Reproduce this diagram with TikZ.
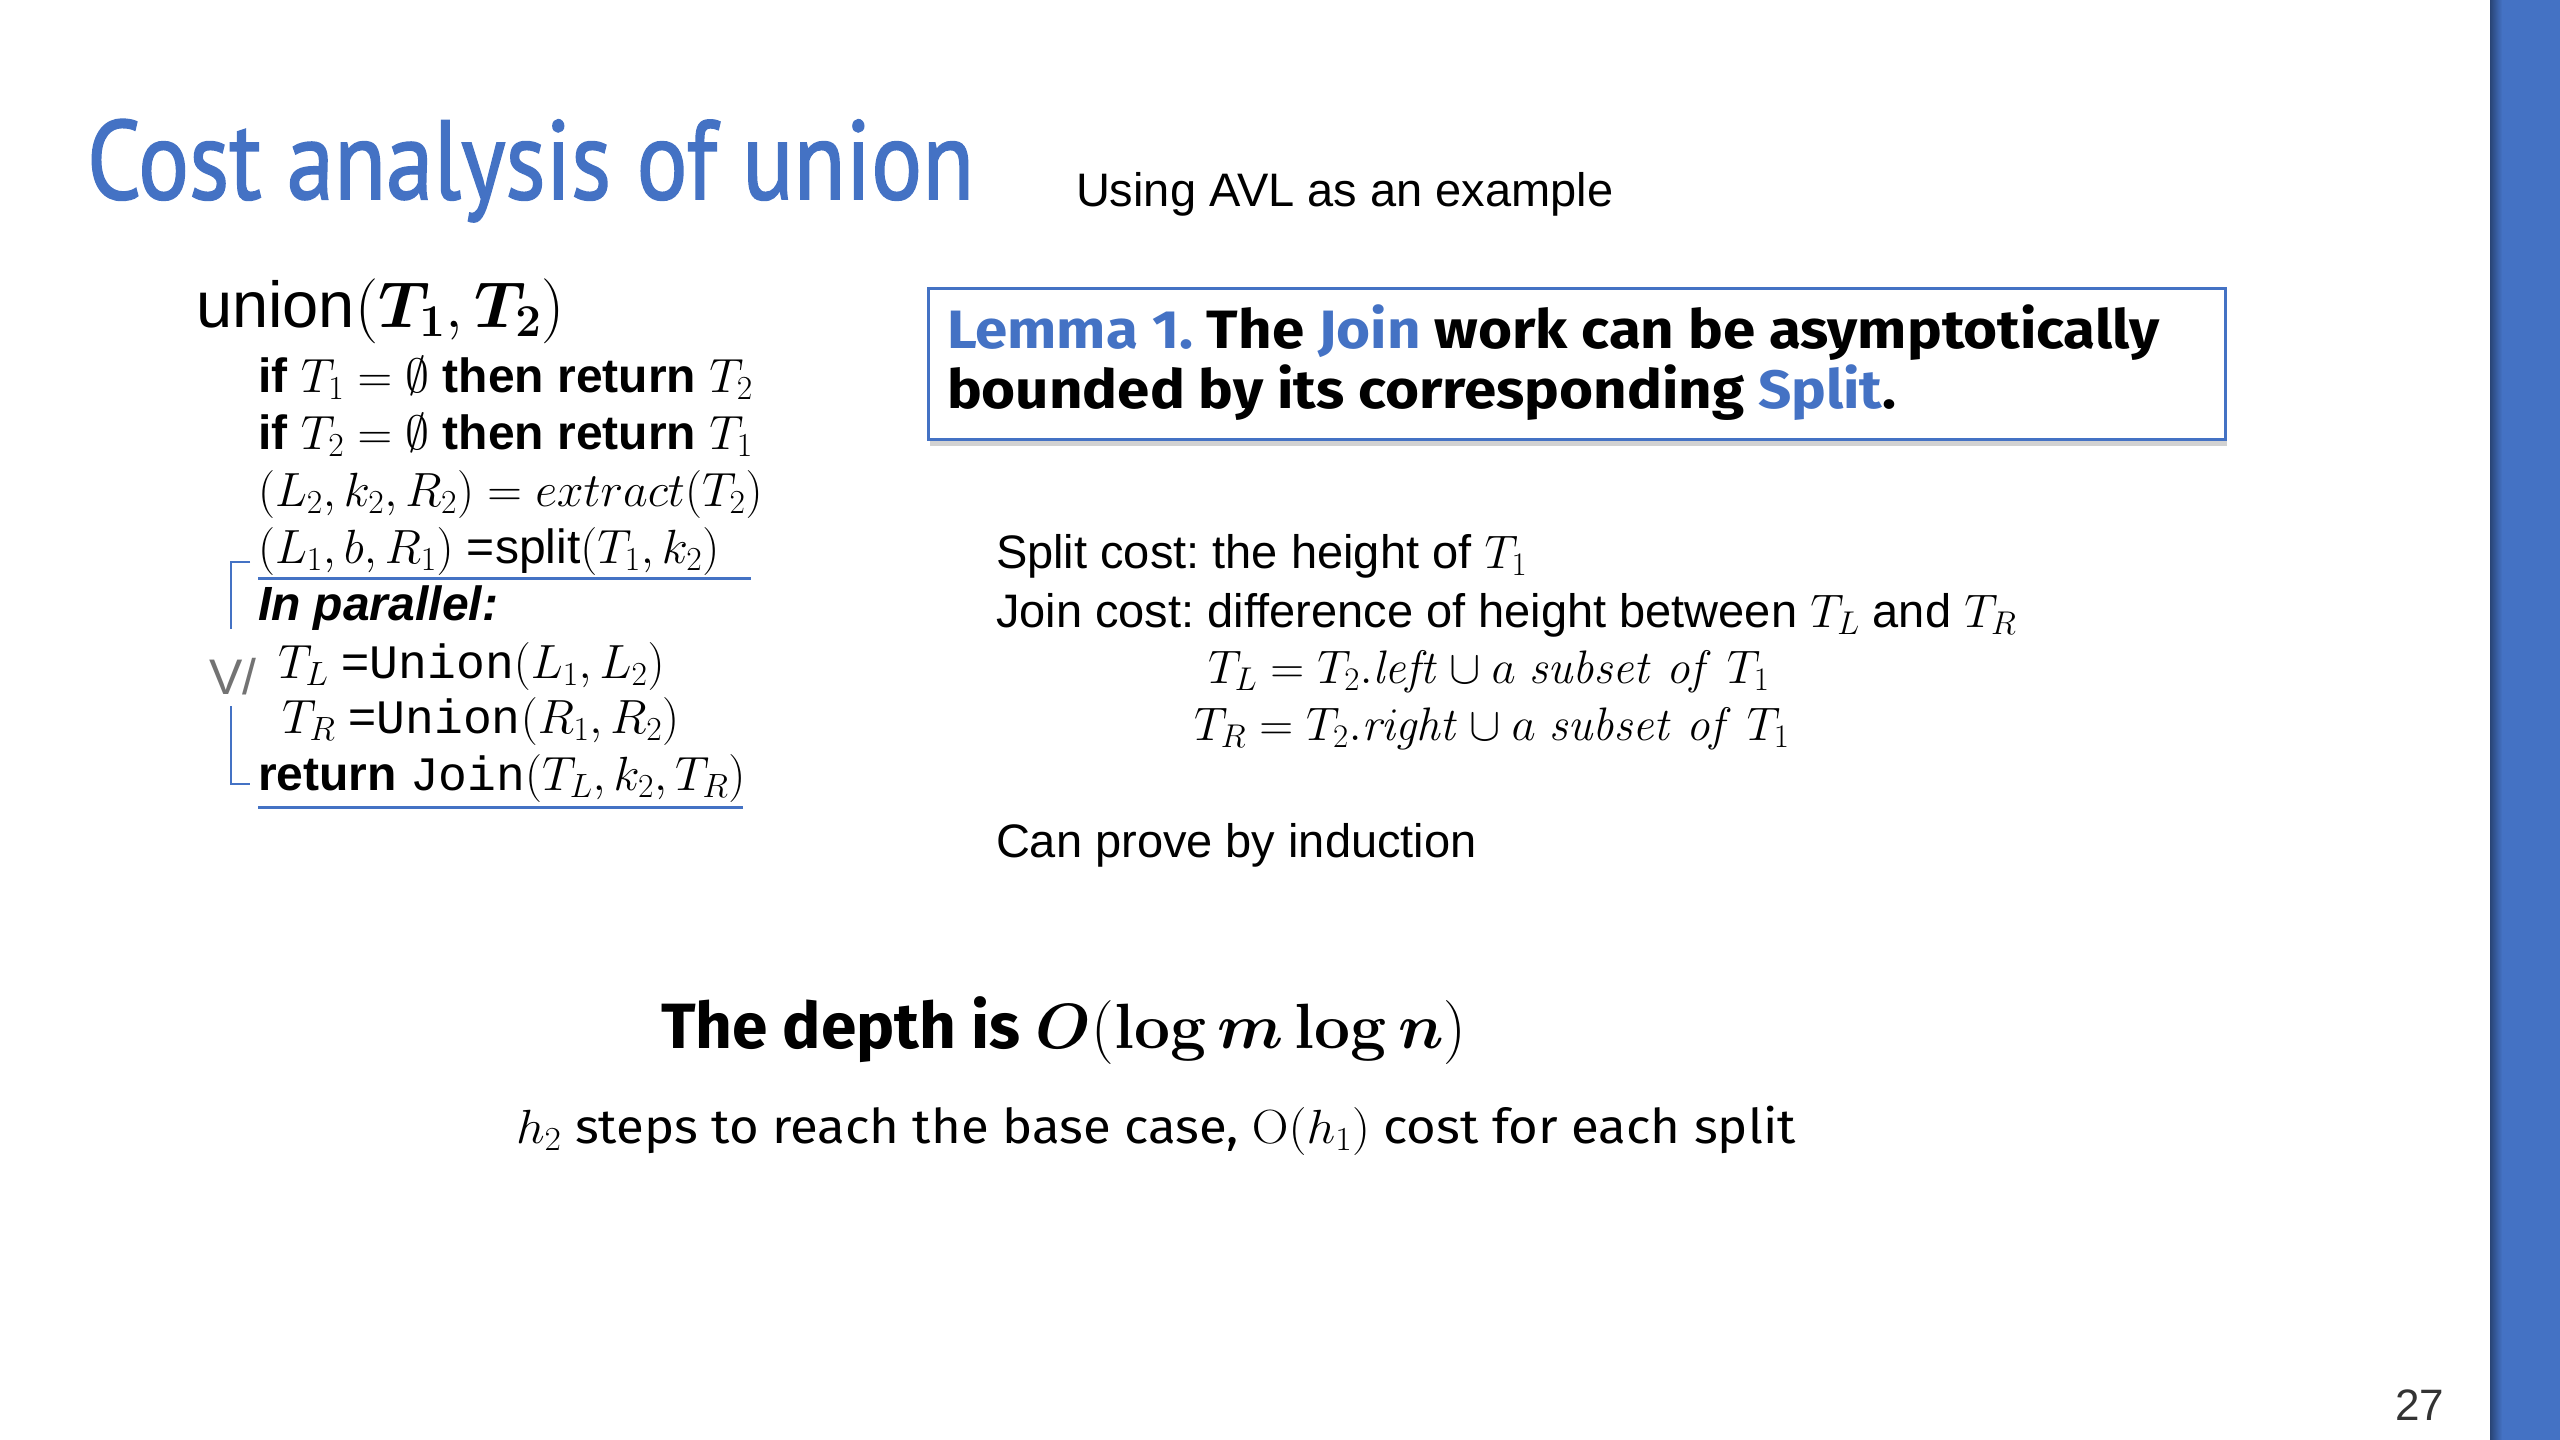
\documentclass[tikz,border=0pt]{standalone}
\usepackage{fix-cm}
\usepackage{amsmath}
\usepackage[no-math]{fontspec}
\setmainfont{Liberation Sans}
\setmonofont{Liberation Mono}
\newfontfamily\titlefont{PT Sans}[FakeBold=1.6]
\newfontfamily\comicfont{Fira Sans}
\usetikzlibrary{shadows}
\definecolor{barblue}{HTML}{4472C4}
\definecolor{titleblue}{HTML}{4472C4}
\definecolor{lineblue}{HTML}{4472C4}
\tikzset{
  txt/.style={anchor=base west, inner sep=0pt, outer sep=0pt},
  code/.style={txt, font=\fontsize{48}{58}\selectfont},
  right/.style={txt, font=\fontsize{47}{56}\selectfont},
  lem/.style={txt, font=\comicfont\bfseries\fontsize{54}{60}\selectfont},
  blueline/.style={draw=lineblue, line width=3pt},
}
\frenchspacing
\begin{document}
\frenchspacing
\begin{tikzpicture}[x=1pt,y=-1pt]
\useasboundingbox (0,0) rectangle (2560,1440);
\fill[white] (0,0) rectangle (2560,1440);
% side bar
\fill[barblue] (2490,0) rectangle (2560,1440);
\shade[left color=barblue!60!black, right color=barblue] (2490,0) rectangle (2502,1440);

% title
\node[txt, text=titleblue, font=\titlefont\fontsize{112}{112}\selectfont] (title) at (87,199) {\scalebox{0.85}[1]{Cost analysis of union}};
\node[txt, font=\fontsize{47}{56}\selectfont] (sub) at (1076,206) {Using AVL as an example};

% pseudo code
\node[txt, font=\fontsize{65}{70}\selectfont] (hdr) at (196,327) {union$(\boldsymbol{T_1},\boldsymbol{T_2})$};
\node[code] (l1) at (258,392) {\textbf{if} $T_1=\emptyset$ \textbf{then return} $T_2$};
\node[code] (l2) at (258,449) {\textbf{if} $T_2=\emptyset$ \textbf{then return} $T_1$};
\node[code] (l3) at (258,506) {$(L_2,k_2,R_2)=\mathnormal{extract}(T_2)$};
\node[code] (l4) at (258,563) {$(L_1,b,R_1)$ =split$(T_1,k_2)$};
\node[code] (l5) at (258,620) {\textbf{\textit{In parallel:}}};
\node[code] (l6) at (278,678) {$T_L$ =\texttt{Union}$(L_1,L_2)$};
\node[code] (l7) at (282,733) {$T_R$ =\texttt{Union}$(R_1,R_2)$};
\node[code] (l8) at (258,790) {\textbf{return} \texttt{Join}$(T_L,k_2,T_R)$};

% underlines
\coordinate (u1a) at (258,578); \coordinate (u1b) at (751,578);
\coordinate (u2a) at (258,807); \coordinate (u2b) at (743,807);
\draw[blueline] (u1a) -- (u1b);
\draw[blueline] (u2a) -- (u2b);

% bracket
\coordinate (b1) at (250,562); \coordinate (b2) at (231,562); \coordinate (b3) at (231,629);
\coordinate (b4) at (231,706); \coordinate (b5) at (231,784); \coordinate (b6) at (250,784);
\draw[blueline, line width=2.5pt] (b1) -- (b2) -- (b3);
\draw[blueline, line width=2.5pt] (b4) -- (b5) -- (b6);
\node[txt, text=black!55, font=\fontsize{50}{50}\selectfont] (par) at (209,694) {V/};

% lemma box
\node[draw=lineblue, line width=2.5pt, fill=white, minimum width=1297pt, minimum height=151pt, inner sep=0pt,
      anchor=north west, drop shadow={shadow xshift=2pt, shadow yshift=-7pt, opacity=0.35}] (lemma) at (927,287) {};
\node[lem] (lem1) at (947,348) {\scalebox{1.08}[1]{\textcolor{lineblue}{Lemma 1.} The \textcolor{lineblue}{Join} work can be asymptotically}};
\node[lem] (lem2) at (947,408) {\scalebox{1.08}[1]{bounded by its corresponding \textcolor{lineblue}{Split}.}};

% right text
\node[right] (r1) at (996,568) {Split cost: the height of $T_1$};
\node[right] (r2) at (996,627) {Join cost: difference of height between $T_L$ and $T_R$};
\node[right] (r3) at (1208,683) {$T_L=T_2.\mathit{left}\cup a\ \mathit{subset\ of}\ T_1$};
\node[right] (r4) at (1194,740) {$T_R=T_2.\mathit{right}\cup a\ \mathit{subset\ of}\ T_1$};
\node[right] (r5) at (996,857) {Can prove by induction};

% bottom
\node[txt, font=\comicfont\bfseries\fontsize{64}{70}\selectfont] (depth) at (661,1048) {The depth is $\boldsymbol{O}(\mathbf{log}\,\boldsymbol{m}\,\mathbf{log}\,\boldsymbol{n})$};
\node[txt, font=\comicfont\fontsize{48}{52}\selectfont] (steps) at (516,1143) {\scalebox{1.06}[1]{$h_2$ steps to reach the base case, $\mathrm{O}(h_1)$ cost for each split}};

% page number
\node[txt, text=black!80, font=\fontsize{44}{44}\selectfont] (pg) at (2395,1420) {27};
\end{tikzpicture}
\end{document}
